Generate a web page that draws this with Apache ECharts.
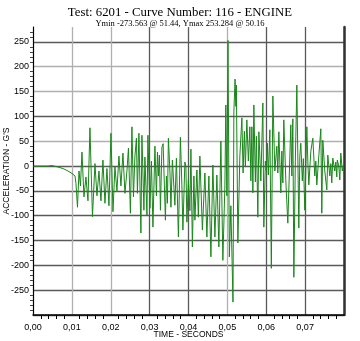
<!DOCTYPE html>
<html>
<head>
<meta charset="utf-8">
<script src="https://cdn.jsdelivr.net/npm/echarts@6/dist/echarts.min.js"></script>
<style>
html,body{margin:0;padding:0;background:#fff;}
#chart{width:360px;height:341px;}
</style>
</head>
<body>
<div id="chart"></div>
<script>
// Time in milliseconds and acceleration in G's
var timeMs = [0.00,1.80,3.86,4.88,5.91,6.94,7.97,9.00,10.03,10.80,11.05,11.44,11.83,12.21,12.60,13.11,13.62,14.14,14.65,15.30,15.94,16.45,16.97,17.48,17.99,18.51,19.02,19.54,20.05,20.57,21.08,21.59,22.11,22.62,23.14,23.65,24.16,24.55,25.06,25.45,25.84,26.22,26.61,26.86,27.25,27.76,28.02,28.53,28.79,29.31,29.56,30.08,30.46,30.85,31.36,31.75,32.01,32.26,32.52,32.78,33.16,33.47,33.80,34.06,34.32,34.58,34.83,35.22,35.48,35.86,36.50,36.89,37.40,37.92,38.30,38.56,39.07,39.33,39.59,39.97,40.36,40.62,41.00,41.39,41.65,42.16,42.54,42.93,43.57,44.22,44.73,45.24,45.76,46.27,46.79,47.30,47.81,48.33,48.84,49.36,49.61,49.87,50.16,50.51,50.90,51.44,51.67,51.98,52.19,52.31,52.70,53.21,53.73,54.04,54.37,54.63,55.01,55.40,55.78,56.04,56.30,56.56,56.81,57.20,57.46,57.84,58.10,58.61,59.13,59.38,59.77,60.03,60.28,60.54,60.93,61.31,61.70,62.21,62.72,62.98,63.24,63.75,64.01,64.27,64.52,65.04,65.55,66.07,66.32,66.58,66.84,67.10,67.48,67.87,68.38,68.64,68.89,69.28,69.54,69.92,70.44,70.69,70.95,71.47,71.98,72.49,72.75,73.01,73.52,74.04,74.29,74.55,75.06,75.58,75.84,76.35,76.61,76.86,77.12,77.63,77.89,78.15,78.28,78.66,78.92,79.18,79.56,79.95];
var accel = [0,0,0,1,-1,-3,-6,-10,-15,-20,-35,-83,-10,-40,28,-62,-22,-70,77,-102,5,-60,-10,-70,12,-75,-5,-80,66,-92,-2,-50,20,-40,26,-55,-10,36,-95,79,-62,20,56,-55,66,-135,62,-89,18,-99,62,-85,10,-123,40,-60,28,-20,22,-89,38,45,-40,-109,-20,-75,56,-10,-83,12,-79,16,-143,58,-40,-129,8,0,-113,-28,-90,34,-163,-20,-109,-8,-103,20,-129,-14,-143,-20,-183,2,-143,-18,-163,50,-190,-40,123,-60,253,-183,-80,-274,109,175,120,163,-155,20,97,-14,70,-2,93,10,79,-30,79,-54,123,-32,60,-103,69,-30,127,-123,10,-10,46,-18,73,-206,141,-10,40,-14,69,-54,30,-34,93,-30,-115,20,83,-20,95,-224,10,163,-125,20,46,-30,15,-89,79,10,-38,30,56,-20,10,-38,20,75,-95,52,-10,-48,22,-20,5,-34,16,-10,8,-22,12,0,-28,26,-10,5];
var xTicks = ['0,00','0,01','0,02','0,03','0,04','0,05','0,06','0,07'];
var titleText = 'Test: 6201 - Curve Number: 116 - ENGINE';
var subText = 'Ymin -273.563 @ 51.44, Ymax 253.284 @ 50.16';

var seriesData = timeMs.map(function (t, i) { return [t / 1000, accel[i]]; });

var dark = '#5a5a5a', light = '#b0b0b0';
var chart = echarts.init(document.getElementById('chart'), null, {renderer: 'canvas'});
chart.setOption({
  backgroundColor: '#ffffff',
  animation: false,
  title: [
    {text: titleText, left: 'center', top: 1,
     textStyle: {fontFamily: 'Liberation Serif', fontSize: 12.8, fontWeight: 'normal', color: '#000'}},
    {text: subText, left: 'center', top: 14,
     textStyle: {fontFamily: 'Liberation Serif', fontSize: 8.5, fontWeight: 'normal', color: '#000'}}
  ],
  grid: {left: 33, right: 16, top: 27, bottom: 26, containLabel: false, outerBoundsMode: 'none'},
  xAxis: {
    type: 'value', min: 0, max: 0.08, interval: 0.01,
    name: 'TIME - SECONDS', nameLocation: 'middle', nameGap: 15, nameMoveOverlap: false,
    nameTextStyle: {fontFamily: 'Liberation Sans', fontSize: 8.5, color: '#000', verticalAlign: 'top'},
    axisLine: {onZero: false, lineStyle: {color: '#000', width: 1.5}},
    axisTick: {show: false},
    minorTick: {show: true, splitNumber: 5, length: 4, lineStyle: {color: '#000'}},
    axisLabel: {
      margin: 8, showMaxLabel: false, fontFamily: 'Liberation Sans', fontSize: 9, color: '#000',
      formatter: function (v) { var i = Math.round(v * 100); return xTicks[i] !== undefined ? xTicks[i] : ''; }
    },
    splitLine: {show: true, lineStyle: {width: 1.3, color: [dark, light, light, dark, dark, light, dark, dark, dark]}}
  },
  yAxis: [{
    type: 'value', min: -300, max: 280, interval: 50,
    name: "ACCELERATION - G'S", nameLocation: 'middle', nameGap: 22, nameMoveOverlap: false,
    nameTextStyle: {fontFamily: 'Liberation Sans', fontSize: 8.5, color: '#000'},
    axisLine: {show: true, onZero: false, lineStyle: {color: '#000', width: 1}},
    axisTick: {show: false},
    minorTick: {show: true, splitNumber: 5, length: 3, lineStyle: {color: '#444'}},
    axisLabel: {margin: 4, showMinLabel: false, showMaxLabel: false, fontFamily: 'Liberation Sans', fontSize: 9, color: '#000'},
    splitLine: {show: true, lineStyle: {width: 1.3, color: [dark, dark, dark, dark, dark, dark, dark, light, dark, light, light, dark, 'rgba(0,0,0,0)']}}
  }, {
    type: 'value', min: -300, max: 280, position: 'right',
    axisLine: {show: true, onZero: false, lineStyle: {color: '#333', width: 2.5}},
    axisTick: {show: false}, axisLabel: {show: false}, splitLine: {show: false}
  }],
  series: [{
    type: 'line', data: seriesData, showSymbol: false, symbol: 'none',
    lineStyle: {color: '#1a861a', width: 1},
    yAxisIndex: 0
  }]
});
</script>
</body>
</html>
